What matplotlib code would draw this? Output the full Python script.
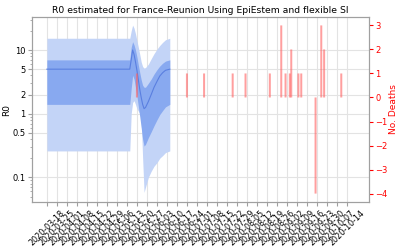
import matplotlib
matplotlib.use("Agg")
import matplotlib.pyplot as plt
from matplotlib.ticker import NullFormatter
import pandas as pd

# ---- R0 estimates (key dates; constant prior region then estimate period)
r0_dates = pd.to_datetime([
    "2020-03-18", "2020-05-15", "2020-05-16", "2020-05-17", "2020-05-18",
    "2020-05-19", "2020-05-20", "2020-05-21", "2020-05-22", "2020-05-23",
    "2020-05-24", "2020-05-25", "2020-05-26", "2020-05-28", "2020-05-30",
    "2020-06-01", "2020-06-03", "2020-06-05", "2020-06-07", "2020-06-09",
    "2020-06-12",
])
r0_mean = [5, 5, 7, 10, 8.5, 6.5, 4.8, 3.4, 2.4, 1.8, 1.4, 1.2, 1.25, 1.55,
           2.0, 2.6, 3.2, 3.9, 4.4, 4.8, 5]
r0_lo50 = [1.4, 1.4, 2.5, 4.0, 3.5, 2.6, 1.9, 1.3, 0.9, 0.6, 0.4, 0.31, 0.33,
           0.42, 0.52, 0.65, 0.8, 0.97, 1.12, 1.28, 1.4]
r0_hi50 = [7, 7, 11, 13.5, 12, 10, 7.8, 5.8, 4.4, 3.4, 2.8, 2.6, 2.6, 3.0,
           3.5, 4.2, 4.9, 5.6, 6.2, 6.7, 7]
r0_lo95 = [0.26, 0.26, 1.0, 1.5, 1.6, 1.4, 1.2, 1.1, 1.0, 0.8, 0.2, 0.058,
           0.07, 0.1, 0.125, 0.15, 0.17, 0.2, 0.22, 0.245, 0.26]
r0_hi95 = [15.3, 15.3, 20, 24.6, 22, 18, 14, 11, 8.5, 6.5, 5.5, 5.2, 5.3, 6.0,
           7.3, 8.8, 10.3, 11.8, 13.2, 14.5, 15.3]

# ---- Daily deaths
death_dates = pd.to_datetime([
    "2020-05-20", "2020-06-24", "2020-07-06", "2020-07-26", "2020-08-04",
    "2020-08-21", "2020-08-29", "2020-09-01", "2020-09-04", "2020-09-05",
    "2020-09-10", "2020-09-12", "2020-09-22", "2020-09-26", "2020-09-28",
    "2020-10-10",
])
deaths = [1, 1, 1, 1, 1, 1, 3, 1, 1, 2, 1, 1, -4, 3, 2, 1]

# ---- Tick labels
x_ticks = pd.date_range("2020-03-18", "2020-10-14", freq="7D")
x_ticklabels = [d.strftime("%Y-%m-%d") for d in x_ticks]
y_ticks = [0.1, 0.5, 1, 2, 5, 10]
y_ticklabels = ["0.1", "0.5", "1", "2", "5", "10"]
death_ticks = [-4, -3, -2, -1, 0, 1, 2, 3]

title = "R0 estimated for France-Reunion Using EpiEstem and flexible SI"

spine_c = "#a0a0a0"
grid_c = "#e3e3e3"

fig = plt.figure(figsize=(4, 2.5), dpi=100)
ax = fig.add_axes([0.079, 0.192, 0.8435, 0.74])

ax.fill_between(r0_dates, r0_lo95, r0_hi95, color="#c3d4f7", lw=0, zorder=2)
ax.fill_between(r0_dates, r0_lo50, r0_hi50, color="#88a9f0", lw=0, zorder=3)
ax.plot(r0_dates, r0_mean, color="#5a7fe0", lw=0.8, zorder=4)
ax.set_yscale("log")
ax.set_yticks(y_ticks, y_ticklabels)
ax.yaxis.set_minor_formatter(NullFormatter())
ax.set_ylabel("R0", fontsize=6.5, labelpad=1)
ax.set_title(title, fontsize=6.7, pad=3)

ax.set_xticks(x_ticks, x_ticklabels, rotation=45)
ax.tick_params(axis="x", labelsize=5.8, pad=1.5, length=3, color=spine_c)
ax.tick_params(axis="y", which="both", labelsize=6, pad=1.5, color=spine_c)
ax.tick_params(axis="y", which="major", length=3)
ax.tick_params(axis="y", which="minor", length=1.5)
ax.grid(True, which="major", color=grid_c, lw=0.8, zorder=0)
ax.set_axisbelow(True)
for s in ax.spines.values():
    s.set_color(spine_c)
    s.set_linewidth(0.8)

ax2 = ax.twinx()
ax2.bar(death_dates, deaths, width=1.4, color="#ff6060", alpha=0.6, lw=0,
        snap=False)
ax2.set_yticks(death_ticks)
ax2.tick_params(axis="y", colors="red", labelsize=6, pad=1.5, length=3)
ax2.set_ylabel("No. Deaths", color="red", fontsize=6.5, labelpad=1)
for s in ax2.spines.values():
    s.set_color(spine_c)
    s.set_linewidth(0.8)

start = pd.Timestamp("2020-03-18")
ax.set_xlim(start - pd.Timedelta(days=10.7), start + pd.Timedelta(days=225.4))
ax.set_ylim(0.041, 33)

fig.savefig("out.png", dpi=100)
